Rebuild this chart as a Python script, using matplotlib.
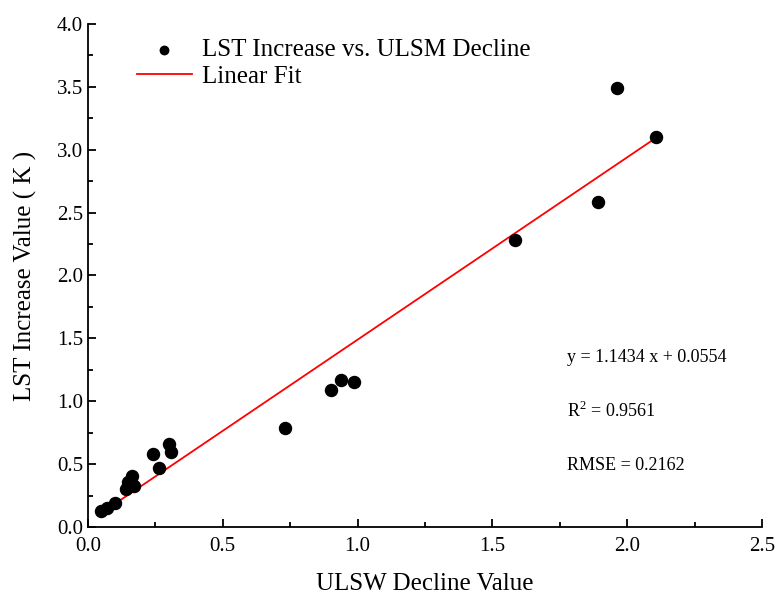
import numpy as np
import matplotlib
matplotlib.use('Agg')
from matplotlib import pyplot as plt
from matplotlib.ticker import MultipleLocator

# data
ulsw_decline = [0.05, 0.07, 0.10, 0.14, 0.15, 0.155, 0.165, 0.17,
                0.24, 0.265, 0.30, 0.31, 0.73, 0.90, 0.94, 0.985,
                1.585, 1.89, 1.96, 2.105]
lst_increase = [0.13, 0.15, 0.19, 0.30, 0.36, 0.34, 0.41, 0.33,
                0.58, 0.47, 0.66, 0.60, 0.79, 1.09, 1.17, 1.155,
                2.28, 2.58, 3.49, 3.10]

# fitted line as drawn in the picture
fit_slope = 1.45
fit_intercept = 0.04

stats_text = ['y = 1.1434 x + 0.0554', 'R$^2$ = 0.9561', 'RMSE = 0.2162']

plt.rcParams['font.family'] = ['Liberation Serif', 'DejaVu Serif']
plt.rcParams['mathtext.fontset'] = 'custom'
plt.rcParams['mathtext.rm'] = 'Liberation Serif'

fig = plt.figure(figsize=(7.77, 5.95), dpi=100)
ax = fig.add_axes([0.113, 0.114, 0.868, 0.846])

ax.scatter(ulsw_decline, lst_increase, s=75, c='black', zorder=3,
           label='LST Increase vs. ULSM Decline')
xf = np.array([min(ulsw_decline), max(ulsw_decline)])
ax.plot(xf, fit_slope * xf + fit_intercept, color='red', lw=1.3,
        label='Linear Fit', zorder=2)

ax.set_xlim(0, 2.5)
ax.set_ylim(0, 4.0)
ax.xaxis.set_major_locator(MultipleLocator(0.5))
ax.xaxis.set_minor_locator(MultipleLocator(0.25))
ax.yaxis.set_major_locator(MultipleLocator(0.5))
ax.yaxis.set_minor_locator(MultipleLocator(0.25))
ax.xaxis.set_major_formatter(matplotlib.ticker.FormatStrFormatter('%.1f'))
ax.yaxis.set_major_formatter(matplotlib.ticker.FormatStrFormatter('%.1f'))
ax.tick_params(which='major', direction='in', length=6, width=1.3, labelsize=15)
ax.tick_params(which='minor', direction='in', length=3.5, width=1.3)
ax.tick_params(axis='x', pad=7)

for s in ['top', 'right']:
    ax.spines[s].set_visible(False)
for s in ['left', 'bottom']:
    ax.spines[s].set_linewidth(1.3)

ax.set_xlabel('ULSW Decline Value', fontsize=18, labelpad=12)
ax.set_ylabel('LST Increase Value ( K )', fontsize=18, labelpad=14)

ax.legend(loc='upper left', bbox_to_anchor=(0.05, 1.0), frameon=False,
          fontsize=18, handlelength=2.2, handletextpad=0.4,
          borderaxespad=0.2, labelspacing=0.15, markerscale=0.7)

for i, t in enumerate(stats_text):
    ax.text(1.775, 1.35 - i * 0.43, t, fontsize=13, va='center', ha='left')

plt.savefig('out.png', dpi=100)
